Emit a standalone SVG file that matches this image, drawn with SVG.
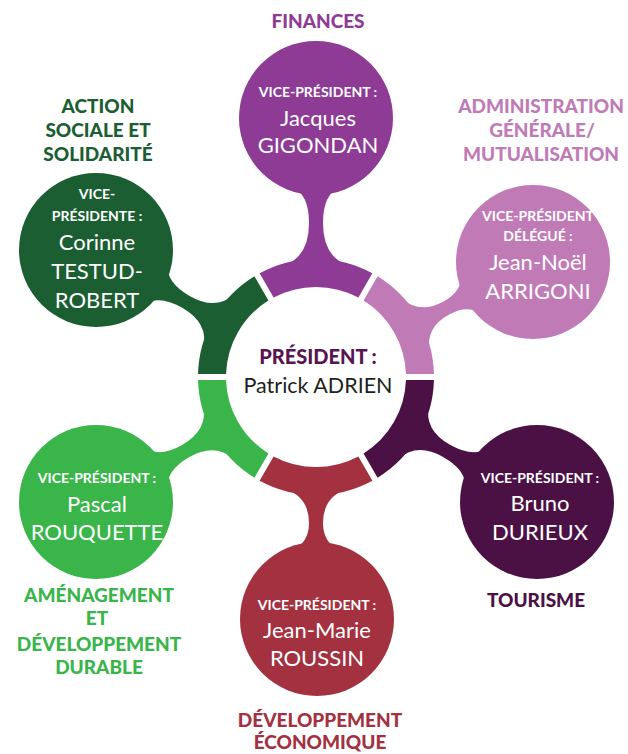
<svg xmlns="http://www.w3.org/2000/svg" width="628" height="754" viewBox="0 0 628 754">
<style>
text{font-family:Lato,"Open Sans","DejaVu Sans",sans-serif;text-anchor:middle}
.lbl{font-weight:900;font-size:19px}
.vp{font-weight:700;font-size:14px;fill:#fff}
.nm{font-size:22px;fill:#fff}
.c1{fill:#8e3b96}.c2{fill:#c07bb7}.c3{fill:#1b5e32}.c4{fill:#39b54a}.c5{fill:#4b1145}.c6{fill:#a3313f}
</style>
<rect width="628" height="754" fill="#fff"/>
<g id="connectors">
<path class="c1" transform="translate(316 377)" d="M-28,-100 L-31,-112 Q-7,-121 -7,-154 Q-7,-183 -24,-190 L24,-190 Q7,-183 7,-154 Q7,-121 31,-112 L28,-100 Z"/>
<path class="c2" transform="translate(316 377) rotate(62.1)" d="M-28,-100 L-31,-112 Q-7,-120 -7,-147 Q-7,-170 -24,-177 L24,-177 Q7,-170 7,-147 Q7,-120 31,-112 L28,-100 Z"/>
<path class="c3" transform="translate(316 377) rotate(-60)" d="M-28,-100 L-31,-112 Q-7,-120 -7,-150 Q-7,-178 -24,-185 L24,-185 Q7,-178 7,-150 Q7,-120 31,-112 L28,-100 Z"/>
<path class="c4" transform="translate(316 377) rotate(-119.6)" d="M-28,-100 L-31,-112 Q-7,-120 -7,-150 Q-7,-177 -24,-184 L24,-184 Q7,-177 7,-150 Q7,-120 31,-112 L28,-100 Z"/>
<path class="c5" transform="translate(316 377) rotate(119.5)" d="M-28,-100 L-31,-112 Q-7,-120 -7,-150 Q-7,-178 -24,-185 L24,-185 Q7,-178 7,-150 Q7,-120 31,-112 L28,-100 Z"/>
<path class="c6" transform="translate(316 377) rotate(180)" d="M-28,-100 L-31,-112 Q-7,-120 -7,-146 Q-7,-166 -24,-173 L24,-173 Q7,-166 7,-146 Q7,-120 31,-112 L28,-100 Z"/>
</g>
<g id="president">
<path class="c2" d="M433.96,374 A118,118 0 0 0 377.58,276.34 L363.57,300.6 A90,90 0 0 1 405.95,374 Z"/>
<path class="c1" d="M372.39,273.35 A118,118 0 0 0 259.61,273.35 L273.62,297.6 A90,90 0 0 1 358.38,297.6 Z"/>
<path class="c3" d="M254.42,276.34 A118,118 0 0 0 198.04,374 L226.05,374 A90,90 0 0 1 268.43,300.6 Z"/>
<path class="c4" d="M198.04,380 A118,118 0 0 0 254.42,477.66 L268.43,453.4 A90,90 0 0 1 226.05,380 Z"/>
<path class="c6" d="M259.61,480.65 A118,118 0 0 0 372.39,480.65 L358.38,456.4 A90,90 0 0 1 273.62,456.4 Z"/>
<path class="c5" d="M377.58,477.66 A118,118 0 0 0 433.96,380 L405.95,380 A90,90 0 0 1 363.57,453.4 Z"/>
<text x="318" y="364" font-weight="900" font-size="20" fill="#581552">PRÉSIDENT :</text>
<text x="318" y="393" font-size="21.5" fill="#231f20">Patrick ADRIEN</text>
</g>
<g id="finances">
<circle class="c1" cx="316" cy="118" r="77"/>
<text class="vp" x="318" y="97">VICE-PRÉSIDENT :</text>
<text class="nm" x="318" y="126">Jacques</text>
<text class="nm" x="318" y="153">GIGONDAN</text>
<text class="lbl c1" x="318" y="28">FINANCES</text>
</g>
<g id="administration">
<circle class="c2" cx="533" cy="262" r="77"/>
<text class="vp" x="538" y="221">VICE-PRÉSIDENT</text>
<text class="vp" x="538" y="241">DÉLÉGUÉ :</text>
<text class="nm" x="538" y="270">Jean-Noël</text>
<text class="nm" x="538" y="299">ARRIGONI</text>
<text class="lbl c2" x="541" y="113">ADMINISTRATION</text>
<text class="lbl c2" x="542" y="137">GÉNÉRALE/</text>
<text class="lbl c2" x="541" y="161">MUTUALISATION</text>
</g>
<g id="action-sociale">
<circle class="c3" cx="96" cy="250" r="77"/>
<text class="vp" x="97" y="199">VICE-</text>
<text class="vp" x="97" y="221">PRÉSIDENTE :</text>
<text class="nm" x="97" y="250">Corinne</text>
<text class="nm" x="97" y="279">TESTUD-</text>
<text class="nm" x="97" y="308">ROBERT</text>
<text class="lbl c3" x="98" y="113">ACTION</text>
<text class="lbl c3" x="98" y="137">SOCIALE ET</text>
<text class="lbl c3" x="98" y="161">SOLIDARITÉ</text>
</g>
<g id="amenagement">
<circle class="c4" cx="96" cy="502" r="77"/>
<text class="vp" x="97" y="483">VICE-PRÉSIDENT :</text>
<text class="nm" x="97" y="512">Pascal</text>
<text class="nm" x="97" y="540">ROUQUETTE</text>
<text class="lbl c4" x="99" y="602">AMÉNAGEMENT</text>
<text class="lbl c4" x="97" y="625">ET</text>
<text class="lbl c4" x="99" y="651">DÉVELOPPEMENT</text>
<text class="lbl c4" x="99" y="674">DURABLE</text>
</g>
<g id="tourisme">
<circle class="c5" cx="537" cy="502" r="77"/>
<text class="vp" x="540" y="483">VICE-PRÉSIDENT :</text>
<text class="nm" x="540" y="511">Bruno</text>
<text class="nm" x="540" y="540">DURIEUX</text>
<text class="lbl c5" x="536" y="607">TOURISME</text>
</g>
<g id="developpement-economique">
<circle class="c6" cx="317" cy="619" r="77"/>
<text class="vp" x="317" y="610">VICE-PRÉSIDENT :</text>
<text class="nm" x="317" y="638">Jean-Marie</text>
<text class="nm" x="317" y="666">ROUSSIN</text>
<text class="lbl c6" x="320" y="727">DÉVELOPPEMENT</text>
<text class="lbl c6" x="320" y="749">ÉCONOMIQUE</text>
</g>
</svg>
